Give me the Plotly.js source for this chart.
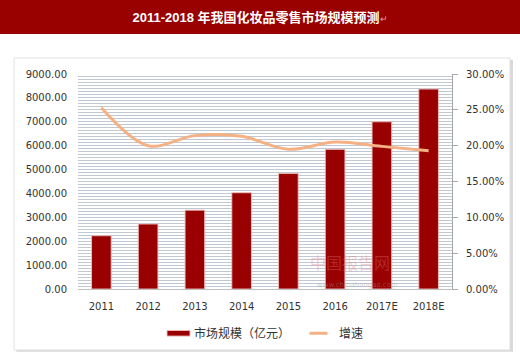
<!DOCTYPE html>
<html>
<head>
<meta charset="utf-8">
<script src="https://cdn.plot.ly/plotly-3.0.1.min.js"></script>
<style>html,body{margin:0;padding:0;background:#fff;}#chart{width:520px;height:356px;}</style>
</head>
<body>
<div id="chart"></div>
<script>
var years = ['2011', '2012', '2013', '2014', '2015', '2016', '2017E', '2018E'];
var marketSize = [2230, 2720, 3300, 4030, 4840, 5845, 7000, 8370];
var growthRate = [0.253, 0.200, 0.214, 0.213, 0.195, 0.205, 0.199, 0.193];
var leftTicks = [0, 1000, 2000, 3000, 4000, 5000, 6000, 7000, 8000, 9000];
var rightTicks = [0, 0.05, 0.10, 0.15, 0.20, 0.25, 0.30];
var seriesNames = ['市场规模（亿元）', '增速'];

var tickFont = {family: 'DejaVu Sans, Verdana, sans-serif', size: 10, color: '#333333'};
var barColor = '#990000';
var lineColor = '#F4B183';

var traces = [
  {
    type: 'bar', x: years, y: marketSize, name: seriesNames[0],
    marker: {color: barColor, line: {color: 'rgba(240,190,190,0.9)', width: 1}},
    width: 0.42, yaxis: 'y', showlegend: false
  },
  {
    type: 'scatter', mode: 'lines', x: years, y: growthRate, name: seriesNames[1],
    line: {color: lineColor, width: 3, shape: 'spline', smoothing: 1},
    yaxis: 'y2', showlegend: false
  }
];

var legendFont = {family: 'Noto Sans CJK SC, sans-serif', size: 12, color: '#333333'};

var layout = {
  width: 520, height: 356,
  margin: {l: 78, r: 68, t: 74, b: 67},
  paper_bgcolor: '#ffffff', plot_bgcolor: '#ffffff',
  showlegend: false,
  title: {
    text: '<b>2011-2018 年我国化妆品零售市场规模预测</b><span style="color:#d9a0a0;font-size:9px">↵</span>',
    font: {family: 'Liberation Sans, Noto Sans CJK SC, sans-serif', size: 13, color: '#ffffff'},
    x: 0.5, xref: 'container', xanchor: 'center',
    y: 1 - 17 / 356, yref: 'container', yanchor: 'middle'
  },
  xaxis: {
    type: 'category', tickvals: years, ticktext: years,
    tickfont: tickFont, showgrid: false, zeroline: false,
    showline: true, linecolor: '#bfbfbf', linewidth: 1,
    ticks: '', ticklabelstandoff: 8, fixedrange: true
  },
  yaxis: {
    range: [0, 9000], tickvals: leftTicks, tickformat: '.2f',
    tickfont: tickFont, showline: false, zeroline: false,
    showgrid: true, gridcolor: '#bfc8d3', gridwidth: 1,
    minor: {dtick: 125, showgrid: true, gridcolor: '#bfc8d3', gridwidth: 1},
    ticks: '', ticklabelstandoff: 10
  },
  yaxis2: {
    range: [0, 0.30], tickvals: rightTicks, tickformat: '.2%',
    overlaying: 'y', side: 'right',
    tickfont: tickFont, showgrid: false, zeroline: false,
    showline: true, linecolor: '#a6a6a6', linewidth: 1,
    ticks: 'outside', ticklen: 5, tickcolor: '#a6a6a6', ticklabelstandoff: 6
  },
  shapes: [
    {type: 'rect', xref: 'paper', yref: 'paper', x0: -0.2086, x1: 1.182, y0: 1.186, y1: 1.35,
     fillcolor: '#990000', line: {width: 0}, layer: 'below'},
    {type: 'rect', xref: 'paper', yref: 'paper', x0: -0.165, x1: 1.163, y0: -0.292, y1: 1.066,
     fillcolor: '#d9d9d9', line: {width: 0}, layer: 'below'},
    {type: 'rect', xref: 'paper', yref: 'paper', x0: -0.171, x1: 1.155, y0: -0.2837, y1: 1.0744,
     fillcolor: '#ffffff', line: {color: '#e0e0e0', width: 1}, layer: 'below'},
    // legend swatches
    {type: 'rect', xref: 'paper', yref: 'paper', x0: 0.238, x1: 0.2995, y0: -0.219, y1: -0.193,
     fillcolor: barColor, line: {color: 'rgba(240,190,190,0.9)', width: 1}},
    {type: 'line', xref: 'paper', yref: 'paper', x0: 0.619, x1: 0.667, y0: -0.206, y1: -0.206,
     line: {color: lineColor, width: 3}}
  ],
  annotations: [
    {text: seriesNames[0], xref: 'paper', yref: 'paper', x: 0.305, y: -0.203, xanchor: 'left', yanchor: 'middle',
     showarrow: false, font: legendFont},
    {text: seriesNames[1], xref: 'paper', yref: 'paper', x: 0.693, y: -0.203, xanchor: 'left', yanchor: 'middle',
     showarrow: false, font: legendFont},
    {text: '中国报告网', xref: 'paper', yref: 'paper', x: 0.84, y: 0.06, showarrow: false,
     font: {family: 'Noto Sans CJK SC, sans-serif', size: 16, color: 'rgba(230,120,120,0.35)'}},
    {text: 'www.chinabaogao.com', xref: 'paper', yref: 'paper', x: 0.86, y: -0.01, showarrow: false,
     font: {family: 'DejaVu Sans, sans-serif', size: 7, color: 'rgba(150,150,150,0.45)'}}
  ]
};

Plotly.newPlot('chart', traces, layout, {staticPlot: true, displayModeBar: false});
</script>
</body>
</html>
